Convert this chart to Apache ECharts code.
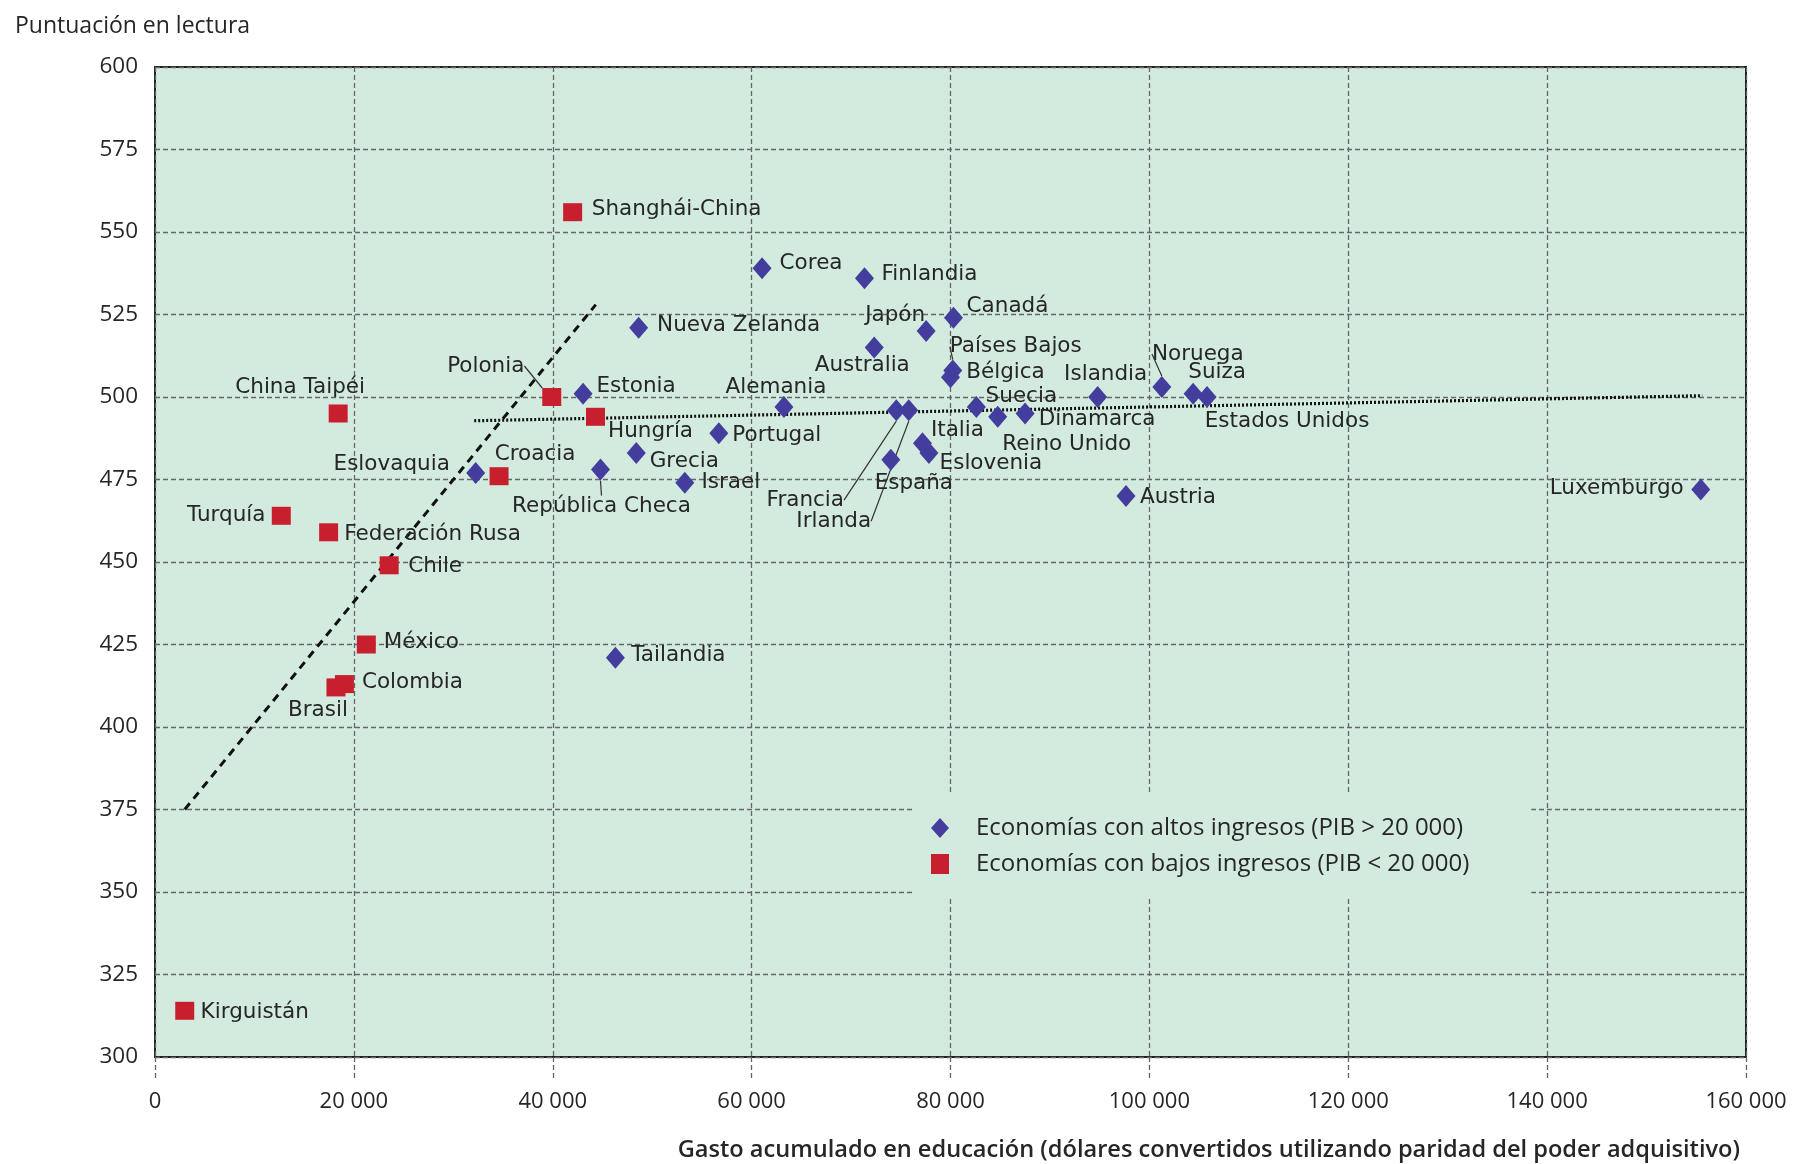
<!DOCTYPE html>
<html><head><meta charset="utf-8">
<script src="https://cdn.jsdelivr.net/npm/echarts@6/dist/echarts.min.js"></script>
<style>html,body{margin:0;padding:0;background:#fff}#c{width:1805px;height:1164px}</style>
</head><body><div id="c"></div>
<script>
// ---------- DATA ----------
const highNames = ['Estonia','Corea','Finlandia','Nueva Zelanda','Japón','Canadá','Australia','Países Bajos','Bélgica','Alemania','Suecia','Islandia','Noruega','Suiza','Estados Unidos','Dinamarca','Reino Unido','Portugal','Grecia','República Checa','Israel','Eslovaquia','Francia','Irlanda','Italia','Eslovenia','España','Austria','Luxemburgo','Tailandia'];
const highX = [43050,61050,71350,48640,77550,80300,72330,80230,80000,63250,82600,94800,101250,104400,105800,87500,84750,56700,48400,44800,53280,32250,74550,75800,77180,77830,74000,97650,155450,46300];
const highY = [501,539,536,521,520,524,515,508,506,497,497,500,503,501,500,495,494,489,483,478,474,477,496,496,486,483,481,470,472,421];

const lowNames = ['Shanghái-China','Polonia','Hungría','China Taipéi','Croacia','Turquía','Federación Rusa','Chile','México','Colombia','Brasil','Kirguistán'];
const lowX = [42000,39900,44300,18420,34600,12700,17460,23550,21250,19050,18200,2990];
const lowY = [556,500,494,495,476,464,459,449,425,413,412,314];

// trend lines (end points)
const lowTrendX = [2990, 44330];
const lowTrendY = [375, 528];
const highTrendX = [32100, 155600];
const highTrendY = [492.8, 500.4];

const xTickLabels = ['0','20 000','40 000','60 000','80 000','100 000','120 000','140 000','160 000'];
const seriesNames = ['Economías con altos ingresos (PIB > 20 000)','Economías con bajos ingresos (PIB < 20 000)'];
const yTitle = 'Puntuación en lectura';
const xTitle = 'Gasto acumulado en educación (dólares convertidos utilizando paridad del poder adquisitivo)';

// ---------- LABEL PLACEMENT (style, px offsets of label centre from marker) ----------
const labelOffsets = {
 'Shanghái-China':[104,-3],'Polonia':[-66,-31],'China Taipéi':[-38,-26],'Hungría':[55,15],'Croacia':[36,-22],
 'Turquía':[-55,0],'Federación Rusa':[104,2],'Chile':[46,1],'México':[55,-2],'Colombia':[68,-2],'Brasil':[-18,23],
 'Kirguistán':[70,2],'Estonia':[53,-7],'Corea':[49,-5],'Finlandia':[65,-4],'Nueva Zelanda':[100,-2],'Japón':[-31,-16],
 'Canadá':[54,-11],'Australia':[-12,18],'Países Bajos':[63,-24],'Bélgica':[55,-5],'Alemania':[-8,-19],'Suecia':[45,-10],
 'Islandia':[8,-23],'Noruega':[36,-33],'Suiza':[24,-21],'Estados Unidos':[80,24],'Dinamarca':[72,6],'Reino Unido':[69,28],
 'Portugal':[58,2],'Grecia':[48,8],'República Checa':[1,37],'Israel':[46,0],'Eslovaquia':[-84,-8],'Francia':[-91,90],
 'Irlanda':[-75,111],'Italia':[35,-13],'Eslovenia':[62,10],'España':[23,24],'Austria':[52,1],'Luxemburgo':[-84,-1],'Tailandia':[63,-2]
};
const leaderLines = ['Polonia','Países Bajos','República Checa','Francia','Irlanda','Noruega'];

const BG = '#d3ebdf';
const BLUE = '#433e9e';
const RED = '#c81f2f';
const TXT = '#262626';

function buildItems(names, xs, ys){
  return names.map((n,i)=>({
    name:n, value:[xs[i], ys[i]],
    label:{offset: labelOffsets[n] || [0,0]},
    labelLine: leaderLines.includes(n) ? {show:true, length2:0, lineStyle:{color:'#333', width:1.2}} : {show:false}
  }));
}
const labelBase = {show:true, position:'inside', formatter:'{b}', color:TXT, fontFamily:'DejaVu Sans', fontSize:21.5,
  align:'center', verticalAlign:'middle', textBorderWidth:0, opacity:1};

const chart = echarts.init(document.getElementById('c'), null, {renderer:'canvas'});
chart.setOption({
  animation:false,
  backgroundColor:'#ffffff',
  title:[
    {text:yTitle, left:10, top:10, textStyle:{fontFamily:'Open Sans', fontSize:23, fontWeight:'normal', color:TXT}},
    {text:xTitle, right:60, top:1133, textStyle:{fontFamily:'Open Sans', fontSize:23.6, fontWeight:600, color:TXT}}
  ],
  grid:{left:155, right:59, top:67, bottom:107, show:true, backgroundColor:BG, borderColor:'#222', borderWidth:2},
  xAxis:{type:'value', min:0, max:160000, interval:20000,
    axisLine:{show:false},
    axisTick:{show:true, length:22, lineStyle:{color:'#666', width:1.3, type:[5,3]}},
    axisLabel:{margin:34, fontFamily:'Open Sans', fontSize:22, color:TXT, formatter:(v)=>xTickLabels[Math.round(v/20000)]},
    splitLine:{show:true, lineStyle:{color:'#666', width:1.3, type:[5,3]}}
  },
  yAxis:{type:'value', min:300, max:600, interval:25,
    axisLine:{show:false}, axisTick:{show:false},
    axisLabel:{margin:17, fontFamily:'Open Sans', fontSize:22.5, color:TXT},
    splitLine:{show:true, lineStyle:{color:'#666', width:1.3, type:[5,3]}}
  },
  legend:{
    orient:'vertical', left:915, top:794,
    data:[{name:seriesNames[0], icon:'diamond'},{name:seriesNames[1], icon:'rect'}],
    backgroundColor:BG, padding:[22,62,20,16], itemGap:12, itemWidth:18, itemHeight:20,
    itemStyle:{opacity:1},
    textStyle:{fontFamily:'Open Sans', fontSize:24, color:TXT, padding:[0,0,0,22]}
  },
  series:[
    {type:'line', silent:true, symbol:'none', z:2, data: lowTrendX.map((x,i)=>[x, lowTrendY[i]]),
      lineStyle:{color:'#111', width:3, type:[8,6]}},
    {type:'line', silent:true, symbol:'none', z:2, data: highTrendX.map((x,i)=>[x, highTrendY[i]]),
      lineStyle:{color:'#111', width:3.2, type:[2,2]}},
    {name:seriesNames[0], type:'scatter', symbol:'diamond', symbolSize:[19,22], z:5,
      itemStyle:{color:BLUE, opacity:1}, label:labelBase, data: buildItems(highNames, highX, highY)},
    {name:seriesNames[1], type:'scatter', symbol:'rect', symbolSize:[19,18], z:5,
      itemStyle:{color:RED, opacity:1}, label:labelBase, data: buildItems(lowNames, lowX, lowY)}
  ]
});
</script>
</body></html>
